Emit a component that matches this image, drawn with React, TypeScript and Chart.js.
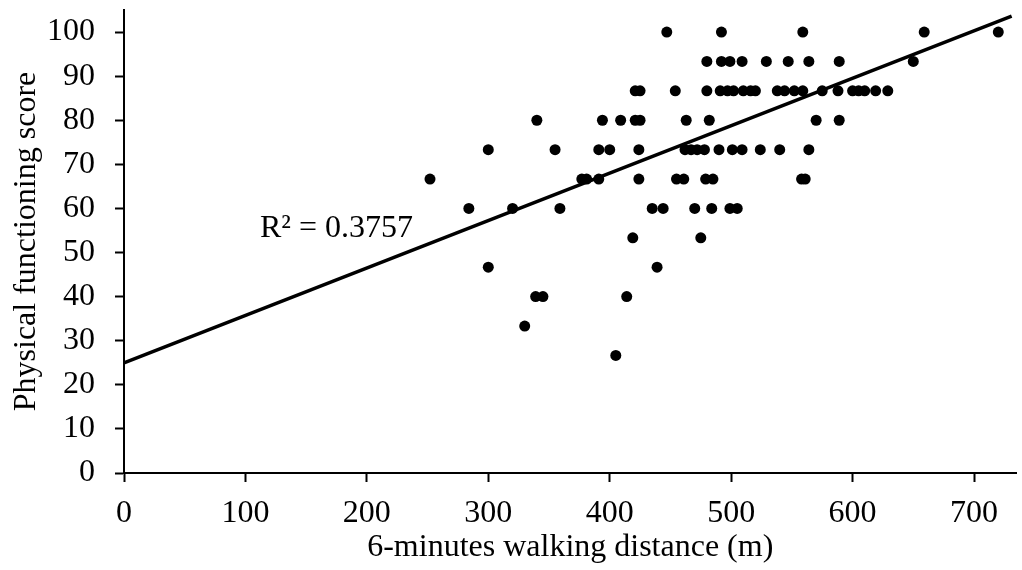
import React, { useEffect, useRef } from 'react';
import { Chart, registerables } from 'chart.js';

Chart.register(...registerables);

// Score levels (y) and the walking distances (x) observed at each level
const scoreLevels = [100, 93.33, 86.67, 80, 73.33, 66.67, 60, 53.33, 46.67, 40, 33.33, 26.67];
const dist100 = [447, 492, 559, 659, 720];
const dist93 = [480, 492, 499, 509, 529, 547, 564, 589, 650];
const dist87 = [421, 425, 454, 480, 491, 497, 502, 510, 516, 520, 538, 544, 552, 559, 575, 588, 600, 605, 610, 619, 629];
const dist80 = [340, 394, 409, 421, 425, 463, 482, 570, 589];
const dist73 = [300, 355, 391, 400, 424, 462, 467, 472, 478, 490, 501, 509, 524, 540, 564];
const dist67 = [252, 377, 381, 391, 424, 455, 461, 479, 485, 558, 561];
const dist60 = [284, 320, 359, 435, 444, 470, 484, 499, 505];
const dist53 = [419, 475];
const dist47 = [300, 439];
const dist40 = [339, 345, 414];
const dist33 = [330];
const dist27 = [405];
const distByLevel = [dist100, dist93, dist87, dist80, dist73, dist67, dist60, dist53, dist47, dist40, dist33, dist27];

// Linear trend line
const trendX = [0, 731];
const trendY = [25, 103.6];

const xTickValues = [0, 100, 200, 300, 400, 500, 600, 700];
const yTickValues = [0, 10, 20, 30, 40, 50, 60, 70, 80, 90, 100];
const r2Text = 'R² = 0.3757';
const r2Pos = [112, 53.5];

const FONT = "'Liberation Serif', 'Times New Roman', serif";

const r2Plugin = {
  id: 'r2label',
  afterDatasetsDraw(chart: any) {
    const { ctx, scales } = chart;
    ctx.save();
    ctx.font = `32px ${FONT}`;
    ctx.fillStyle = '#000';
    ctx.textBaseline = 'alphabetic';
    ctx.textAlign = 'left';
    ctx.fillText(r2Text, scales.x.getPixelForValue(r2Pos[0]), scales.y.getPixelForValue(r2Pos[1]));
    ctx.restore();
  },
};

export default function App() {
  const ref = useRef<HTMLCanvasElement>(null);

  useEffect(() => {
    document.body.style.margin = '0';
    const points: { x: number; y: number }[] = [];
    distByLevel.forEach((arr, i) => arr.forEach((d) => points.push({ x: d, y: scoreLevels[i] })));
    const trend = trendX.map((x, i) => ({ x, y: trendY[i] }));

    const chart = new Chart(ref.current as HTMLCanvasElement, {
      type: 'scatter',
      data: {
        datasets: [
          {
            data: trend,
            showLine: true,
            borderColor: '#000',
            borderWidth: 3.5,
            pointRadius: 0,
            pointHoverRadius: 0,
          } as any,
          {
            data: points,
            backgroundColor: '#000',
            borderColor: '#000',
            borderWidth: 0,
            pointRadius: 5.5,
          },
        ],
      },
      options: {
        animation: false,
        responsive: true,
        maintainAspectRatio: false,
        layout: { padding: { top: 10, right: 4, left: 0, bottom: 0 } },
        plugins: { legend: { display: false }, tooltip: { enabled: false } },
        scales: {
          x: {
            type: 'linear',
            min: 0,
            max: 735,
            afterBuildTicks: (s: any) => {
              s.ticks = xTickValues.map((v) => ({ value: v }));
            },
            afterFit: (s: any) => {
              s.height = 97;
              s.paddingLeft = 0;
              s.paddingRight = 0;
            },
            ticks: { color: '#000', font: { family: FONT, size: 32 }, padding: 12, maxRotation: 0, autoSkip: false },
            grid: { drawOnChartArea: false, drawTicks: true, tickLength: 9, tickWidth: 2, tickColor: '#000' },
            border: { display: true, color: '#000', width: 2 },
            title: {
              display: true,
              text: '6-minutes walking distance (m)',
              color: '#000',
              font: { family: FONT, size: 32 },
              padding: { top: 0, bottom: 3 },
            },
          },
          y: {
            type: 'linear',
            min: 0,
            max: 105,
            afterBuildTicks: (s: any) => {
              s.ticks = yTickValues.map((v) => ({ value: v }));
            },
            afterFit: (s: any) => {
              s.width = 124;
              s.paddingTop = 0;
              s.paddingBottom = 0;
            },
            ticks: { color: '#000', font: { family: FONT, size: 32 }, padding: 20, autoSkip: false },
            grid: { drawOnChartArea: false, drawTicks: true, tickLength: 9, tickWidth: 2, tickColor: '#000' },
            border: { display: true, color: '#000', width: 2 },
            title: {
              display: true,
              text: 'Physical functioning score',
              color: '#000',
              font: { family: FONT, size: 32 },
              padding: { top: 7, bottom: 0 },
            },
          },
        },
      },
      plugins: [r2Plugin],
    });
    return () => chart.destroy();
  }, []);

  return (
    <div style={{ position: 'relative', width: 1022, height: 570 }}>
      <canvas ref={ref} />
    </div>
  );
}
